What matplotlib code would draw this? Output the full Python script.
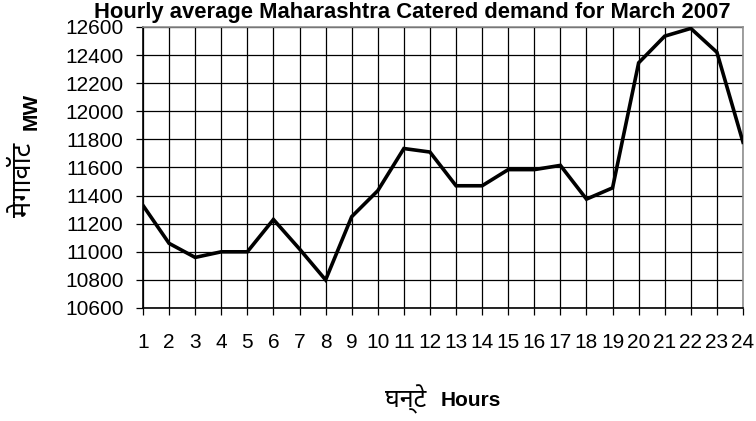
import matplotlib
matplotlib.use("Agg")
import matplotlib.pyplot as plt

hours = list(range(1, 25))
demand = [11330, 11060, 10960, 11000, 11000, 11230, 11020, 10800, 11250, 11435,
          11735, 11710, 11470, 11470, 11585, 11585, 11615, 11375, 11455, 12345,
          12535, 12590, 12420, 11780]
yticks = list(range(10600, 12601, 200))

title = "Hourly average Maharashtra Catered demand for March 2007"
ylabel_hi = "मेगावॉट"
ylabel_en = "MW"
xlabel_hi = "घन्टे"
xlabel_en = "Hours"

fam = ['Liberation Sans', 'Noto Sans', 'DejaVu Sans']
plt.rcParams['font.family'] = fam

fig = plt.figure(figsize=(7.56, 4.21), dpi=100)
ax = fig.add_axes([143/756, 1 - 308/421, 600/756, 281/421])
ax.plot(hours, demand, color='black', linewidth=2.6, solid_joinstyle='miter', zorder=3)
ax.set_xlim(1, 24)
ax.set_ylim(10600, 12600)
ax.set_xticks(hours)
ax.set_xticklabels([str(h) for h in hours], fontsize=15)
ax.set_yticks(yticks)
ax.set_yticklabels([str(v) for v in yticks], fontsize=15)
ax.grid(True, color='black', linewidth=0.9)
ax.set_axisbelow(True)
ax.tick_params(axis='both', length=5, width=0.9, color='black')
ax.tick_params(axis='y', pad=9)
ax.tick_params(axis='x', pad=13)
for s in ['top', 'right']:
    ax.spines[s].set_color('#909090')
for s in ['left', 'bottom']:
    ax.spines[s].set_color('black')
for s in ax.spines.values():
    s.set_linewidth(1.2)

fig.text(412/756, 1 - 18/421, title, ha='center', va='baseline', fontsize=15.8, fontweight='bold')
fig.text(31/756, 1 - 111/421, ylabel_en, ha='center', va='center', rotation=90, fontsize=15, fontweight='bold')
fig.text(24/756, 1 - 180/421, ylabel_hi, ha='center', va='center', rotation=90, fontsize=19.5, fontweight='bold')
fig.text(406/756, 1 - 399/421, xlabel_hi, ha='center', va='center', fontsize=18, fontweight='bold')
fig.text(471/756, 1 - 401/421, xlabel_en, ha='center', va='center', fontsize=15, fontweight='bold')

fig.savefig("out.png", dpi=100)
